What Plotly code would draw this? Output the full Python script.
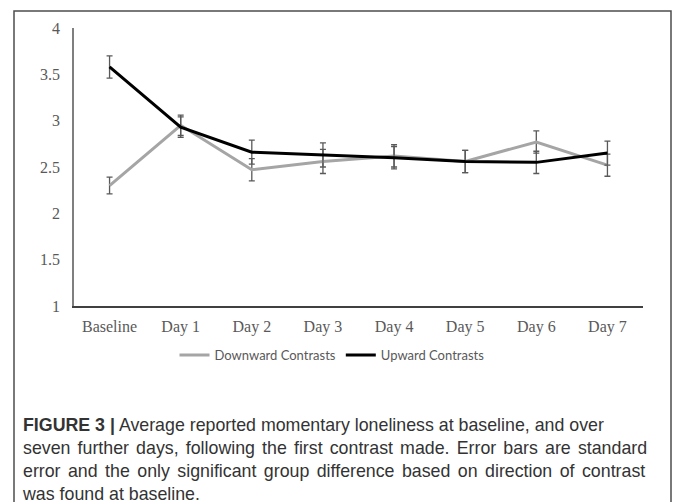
import plotly.graph_objects as go

categories = ["Baseline", "Day 1", "Day 2", "Day 3", "Day 4", "Day 5", "Day 6", "Day 7"]
downward = [2.30, 2.95, 2.47, 2.56, 2.62, 2.56, 2.77, 2.52]
downward_se = [0.09, 0.11, 0.12, 0.13, 0.12, 0.12, 0.12, 0.12]
upward = [3.58, 2.93, 2.66, 2.63, 2.60, 2.56, 2.55, 2.65]
upward_se = [0.12, 0.11, 0.13, 0.13, 0.12, 0.12, 0.12, 0.13]
y_ticks = [1, 1.5, 2, 2.5, 3, 3.5, 4]
y_tick_labels = ["1", "1.5", "2", "2.5", "3", "3.5", "4"]
caption_lines = [
    "<b>FIGURE 3 |</b> Average reported momentary loneliness at baseline, and over",
    "<span style=\"word-spacing:2.2px\">seven further days, following the first contrast made. Error bars are standard</span>",
    "<span style=\"word-spacing:2.5px\">error and the only significant group difference based on direction of contrast</span>",
    "was found at baseline.",
]
caption = "<br>".join(caption_lines)

W, H = 673, 502
L, R, T, B = 74, 30, 28, 196
pw, ph = W - L - R, H - T - B

def px(x):
    return (x - L) / pw

def py(y):
    return (H - B - y) / ph

fig = go.Figure()
fig.add_trace(go.Scatter(
    x=categories, y=downward, name="Downward Contrasts", mode="lines",
    line=dict(color="#a5a5a5", width=3),
    error_y=dict(type="data", array=downward_se, color="#595959", thickness=1.3, width=3),
))
fig.add_trace(go.Scatter(
    x=categories, y=upward, name="Upward Contrasts", mode="lines",
    line=dict(color="#000000", width=3),
    error_y=dict(type="data", array=upward_se, color="#595959", thickness=1.3, width=3),
))

fig.add_shape(type="rect", xref="paper", yref="paper",
              x0=px(14), x1=px(671), y0=py(515), y1=py(11),
              line=dict(color="#4d4d4d", width=1.5), fillcolor="rgba(0,0,0,0)", layer="below")

fig.add_annotation(text=caption, xref="paper", yref="paper",
                   x=px(20), y=py(413), xanchor="left", yanchor="top",
                   align="left", showarrow=False,
                   font=dict(family="Liberation Sans", size=17.8, color="#333333"))

fig.update_layout(
    width=W, height=H,
    margin=dict(l=L, r=R, t=T, b=B, pad=0),
    paper_bgcolor="white", plot_bgcolor="white",
    showlegend=True,
    legend=dict(orientation="h", x=px(332), xanchor="center", y=py(355), yanchor="middle",
                font=dict(family="Lato", size=13, color="#595959"),
                itemwidth=30, tracegroupgap=0, bgcolor="rgba(0,0,0,0)"),
    xaxis=dict(type="category", range=[-0.5, 7.5], showgrid=False, zeroline=False,
               showline=True, linecolor="#404040", linewidth=1.5, ticks="",
               tickfont=dict(family="Liberation Serif", size=16, color="#595959"),
               ticklabelstandoff=5, fixedrange=True),
    yaxis=dict(range=[1, 4], tickvals=y_ticks, ticktext=y_tick_labels, showgrid=False,
               zeroline=False, showline=True, linecolor="#7f7f7f", linewidth=1.5, ticks="",
               tickfont=dict(family="Liberation Serif", size=16, color="#595959"),
               ticklabelstandoff=9, fixedrange=True),
)

fig.write_html("out.html", config={"displayModeBar": False},
               post_script="document.body.style.margin='0';document.body.style.overflow='hidden';")
